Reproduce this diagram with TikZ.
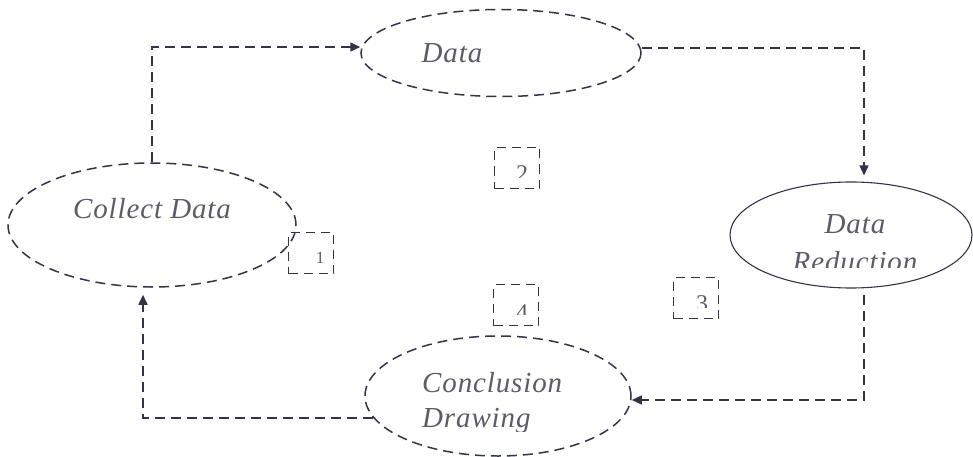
\documentclass[tikz,border=0pt]{standalone}
\usepackage{fontspec}
\setmainfont{Liberation Serif}
\newfontfamily\stagefont{Liberation Serif}[LetterSpace=3]
\usetikzlibrary{arrows.meta,shapes.geometric}

\definecolor{inkline}{HTML}{33334A}
\definecolor{inktext}{HTML}{5C5C68}

\tikzset{
  stage/.style={ellipse,draw=inkline,line width=1.5pt,dash pattern=on 10pt off 6pt,inner sep=0pt},
  stagetext/.style={font=\stagefont\itshape\fontsize{29}{34}\selectfont,text=inktext,inner sep=0pt,anchor=base},
  numbox/.style={draw=inkline,line width=1.4pt,dash pattern=on 9pt off 6pt,minimum width=45pt,minimum height=41pt,inner sep=0pt},
  numtext/.style={font=\fontsize{17}{19}\selectfont,text=inktext,inner sep=0pt,anchor=base},
  flow/.style={draw=inkline,line width=1.5pt,dash pattern=on 10pt off 6pt,-{Triangle[length=10pt,width=9pt]}},
}

\begin{document}
\begin{tikzpicture}[x=1pt,y=-1pt]
\useasboundingbox (0,0) rectangle (973,457);

% the four stages
\node[stage,minimum width=288pt,minimum height=124pt] (collect) at (152,225) {};
\node[stage,minimum width=280pt,minimum height=87pt] (data) at (501,53) {};
\node[ellipse,draw=inkline,line width=1.1pt,inner sep=0pt,minimum width=242pt,minimum height=106pt] (reduce) at (851,235) {};
\node[stage,minimum width=266pt,minimum height=120pt] (concl) at (498,396) {};

\node[stagetext] (collecttxt) at (152,218) {Collect Data};
\node[stagetext] (datatxt) at (452,63) {Data};
\node[stagetext] (reducetop) at (855,233) {Data};
\begin{scope}
  \clip (760,240) rectangle (960,267);
  \node[stagetext] (reducebot) at (855,271) {Reduction};
\end{scope}
\node[stagetext,anchor=base west] (concltop) at (422,392) {Conclusion};
\begin{scope}
  \clip (400,400) rectangle (600,431);
  \node[stagetext,anchor=base west] (conclbot) at (422,427) {Drawing};
\end{scope}

% numbered boxes
\node[numbox] (b1) at (311,253) {};
\node[numbox] (b2) at (517,168) {};
\node[numbox] (b3) at (696,298) {};
\node[numbox] (b4) at (516,305) {};
\node[numtext] (n1) at (320,263) {1};
\begin{scope}
  \clip (500,150) rectangle (535,177);
  \node[numtext,font=\fontsize{24}{26}\selectfont] (n2) at (522,181) {2};
\end{scope}
\begin{scope}
  \clip (680,280) rectangle (715,307);
  \node[numtext,font=\fontsize{24}{26}\selectfont] (n3) at (702,311) {3};
\end{scope}
\begin{scope}
  \clip (500,290) rectangle (535,314);
  \node[numtext,font=\fontsize{24}{26}\selectfont] (n4) at (522,320) {4};
\end{scope}

% the cycle
\draw[flow] (collect.north) |- ([yshift=6pt]data.west);
\draw[flow,shorten >=6pt] ([yshift=5pt]data.east) -| ([xshift=13pt]reduce.north);
\draw[flow,shorten <=6pt] ([xshift=13pt]reduce.south) |- ([yshift=-4pt]concl.east);
\draw[flow,shorten >=7pt] (concl.190) -| ([xshift=-9pt]collect.south);
\end{tikzpicture}
\end{document}
